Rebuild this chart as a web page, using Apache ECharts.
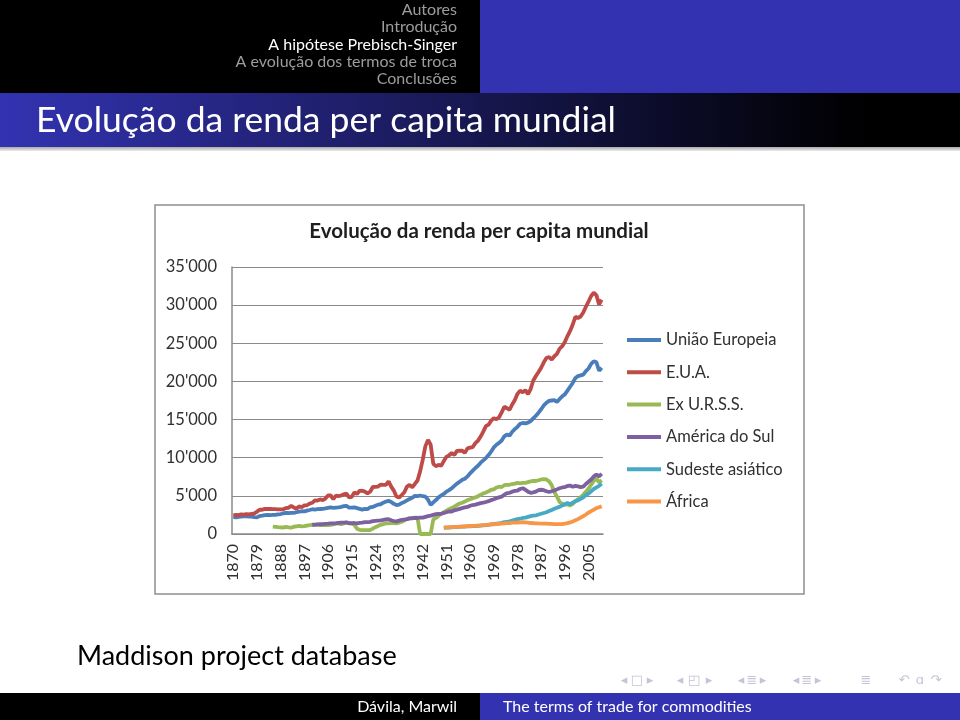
<!DOCTYPE html>
<html>
<head>
<meta charset="utf-8">
<script src="https://cdn.jsdelivr.net/npm/echarts@6/dist/echarts.min.js"></script>
<style>
html,body{margin:0;padding:0;background:#fff;}
#c{width:960px;height:720px;}
</style>
</head>
<body>
<div id="c"></div>
<script>
const years = [1870,1871,1872,1873,1874,1875,1876,1877,1878,1879,
1880,1881,1882,1883,1884,1885,1886,1887,1888,1889,
1890,1891,1892,1893,1894,1895,1896,1897,1898,1899,
1900,1901,1902,1903,1904,1905,1906,1907,1908,1909,
1910,1911,1912,1913,1914,1915,1916,1917,1918,1919,
1920,1921,1922,1923,1924,1925,1926,1927,1928,1929,
1930,1931,1932,1933,1934,1935,1936,1937,1938,1939,
1940,1941,1942,1943,1944,1945,1946,1947,1948,1949,
1950,1951,1952,1953,1954,1955,1956,1957,1958,1959,
1960,1961,1962,1963,1964,1965,1966,1967,1968,1969,
1970,1971,1972,1973,1974,1975,1976,1977,1978,1979,
1980,1981,1982,1983,1984,1985,1986,1987,1988,1989,
1990,1991,1992,1993,1994,1995,1996,1997,1998,1999,
2000,2001,2002,2003,2004,2005,2006,2007,2008,2009,
2010];

const seriesNames = ['União Europeia','E.U.A.','Ex U.R.S.S.','América do Sul','Sudeste asiático','África'];

const uniaoEuropeia = [2200,2180,2250,2280,2300,2300,2280,2270,2200,2180,
2350,2400,2480,2500,2480,2500,2520,2580,2620,2700,
2760,2750,2780,2770,2850,2920,2980,2960,3060,3150,
3250,3200,3250,3280,3300,3350,3420,3480,3420,3450,
3480,3560,3650,3700,3450,3450,3500,3400,3300,3200,
3300,3250,3500,3550,3700,3850,3900,4100,4250,4350,
4200,3950,3800,3850,4050,4200,4400,4600,4750,5000,
4950,5050,4950,4900,4500,3800,4150,4450,4800,5050,
5250,5550,5750,6000,6300,6600,6850,7100,7250,7550,
7950,8300,8650,8950,9350,9650,9950,10350,10800,11350,
11700,11950,12250,12800,13050,12900,13400,13750,14050,14450,
14550,14500,14600,14800,15150,15500,15900,16350,16850,17200,
17450,17500,17550,17300,17700,18050,18300,18800,19300,19800,
20450,20700,20800,20900,21350,21700,22300,22650,22500,21400,
21800];

const eua = [2445,2503,2469,2581,2528,2599,2562,2632,2693,2930,
3184,3179,3295,3278,3287,3250,3262,3239,3219,3246,
3392,3441,3680,3475,3310,3622,3513,3747,3769,3988,
4091,4402,4388,4533,4437,4642,5048,5063,4574,5037,
4964,5047,5201,5301,4799,4864,5459,5248,5659,5680,
5552,5323,5540,6164,6174,6224,6469,6428,6434,6899,
6213,5691,4908,4777,5114,5467,6204,6430,6126,6561,
7010,8206,9741,11518,12333,11709,9197,8886,9065,8944,
9561,10116,10316,10613,10359,10897,10914,10920,10631,11230,
11328,11402,11905,12242,12773,13419,14134,14330,14863,15179,
15030,15304,15944,16689,16491,16284,16975,17567,18373,18789,
18577,18856,18325,19000,20123,20717,21236,21788,22499,23059,
23201,22849,23298,23616,24284,24615,25170,25950,26621,27463,
28467,28318,28514,29036,29789,30481,31200,31650,31300,30100,
30700];

const exURSS = [null,null,null,null,null,null,null,null,null,null,
null,null,null,null,null,960,930,900,880,850,
920,870,830,950,1000,1050,1000,1020,1100,1150,
1230,1200,1220,1180,1200,1150,1180,1200,1250,1350,
1350,1300,1400,1480,1400,1350,1200,700,550,520,
500,500,520,700,900,1050,1200,1300,1380,1400,
1450,1420,1400,1500,1600,1800,1950,2050,2100,2150,
2150,0,0,0,0,0,1900,2100,2400,2650,
2850,3050,3250,3400,3600,3800,4000,4100,4250,4450,
4550,4700,4800,4950,5150,5300,5450,5600,5800,5850,
6100,6200,6150,6400,6450,6450,6550,6600,6700,6650,
6700,6700,6800,6900,6950,6950,7050,7150,7200,7150,
6900,6400,5500,4900,4200,3950,3850,3900,3750,3950,
4300,4550,4800,5150,5550,5950,6450,6950,7300,6750,
7050];

const americaDoSul = [null,null,null,null,null,null,null,null,null,null,
null,null,null,null,null,null,null,null,null,null,
null,null,null,null,null,null,null,null,null,null,
1180,1220,1250,1280,1300,1330,1350,1380,1400,1420,
1450,1480,1500,1520,1430,1420,1440,1400,1450,1480,
1550,1550,1600,1680,1720,1750,1780,1850,1930,1950,
1800,1700,1650,1750,1850,1900,1950,2050,2050,2100,
2100,2150,2150,2250,2350,2400,2500,2600,2650,2650,
2750,2850,2950,2950,3100,3200,3300,3400,3500,3550,
3700,3800,3850,3950,4050,4100,4200,4300,4450,4550,
4700,4800,4900,5150,5350,5400,5550,5650,5700,5900,
6000,5800,5550,5400,5450,5550,5750,5800,5750,5600,
5500,5600,5700,5850,6000,6100,6150,6300,6350,6200,
6300,6250,6150,6200,6550,6850,7150,7550,7800,7550,
7900];

const sudesteAsiatico = [null,null,null,null,null,null,null,null,null,null,
null,null,null,null,null,null,null,null,null,null,
null,null,null,null,null,null,null,null,null,null,
null,null,null,null,null,null,null,null,null,null,
null,null,null,null,null,null,null,null,null,null,
null,null,null,null,null,null,null,null,null,null,
null,null,null,null,null,null,null,null,null,null,
null,null,null,null,null,null,null,null,null,null,
800,830,850,870,900,920,940,960,970,990,
1000,1020,1040,1070,1100,1130,1150,1200,1250,1300,
1350,1400,1450,1550,1600,1650,1750,1850,1950,2000,
2100,2150,2250,2350,2400,2450,2550,2650,2750,2850,
3000,3150,3300,3450,3550,3750,3900,4050,3900,4100,
4300,4400,4600,4800,5100,5300,5600,5900,6100,6300,
6600];

const africa = [null,null,null,null,null,null,null,null,null,null,
null,null,null,null,null,null,null,null,null,null,
null,null,null,null,null,null,null,null,null,null,
null,null,null,null,null,null,null,null,null,null,
null,null,null,null,null,null,null,null,null,null,
null,null,null,null,null,null,null,null,null,null,
null,null,null,null,null,null,null,null,null,null,
null,null,null,null,null,null,null,null,null,null,
850,870,880,900,920,940,960,980,990,1020,
1050,1060,1080,1110,1140,1170,1190,1220,1250,1280,
1310,1330,1350,1380,1420,1430,1480,1500,1500,1530,
1560,1520,1480,1440,1420,1400,1380,1370,1360,1350,
1340,1320,1300,1300,1300,1310,1350,1420,1520,1650,
1800,1950,2150,2350,2550,2800,3000,3200,3400,3500,
3650];

const seriesData = [uniaoEuropeia, eua, exURSS, americaDoSul, sudesteAsiatico, africa];
const seriesColors = ['#4A7EBB','#BE4B48','#98B954','#7D60A0','#46AAC5','#F79646'];

const navItems = ['Autores','Introdução','A hipótese Prebisch-Singer','A evolução dos termos de troca','Conclusões'];
const slideTitle = 'Evolução da renda per capita mundial';
const chartTitle = 'Evolução da renda per capita mundial';
const sourceText = 'Maddison project database';
const footerLeft = 'Dávila, Marwil';
const footerRight = 'The terms of trade for commodities';

const BLUE = '#3333B2';
const SANS = 'Lato, "Open Sans", sans-serif';

const graphics = [];
// header
graphics.push({type:'rect', z:-20, shape:{x:0,y:0,width:480,height:93}, style:{fill:'#000'}});
graphics.push({type:'rect', z:-20, shape:{x:480,y:0,width:480,height:93}, style:{fill:BLUE}});
const navY = [10,27,45,62,79];
navItems.forEach((t,i)=>{
  graphics.push({type:'text', z:10, style:{text:t, x:457, y:navY[i], fill: i===2 ? '#ffffff' : '#9c9c9c',
    font:'16px '+SANS, textAlign:'right', textVerticalAlign:'middle'}});
});
// frame title bar
graphics.push({type:'rect', z:-20, shape:{x:0,y:93,width:960,height:54},
  style:{fill:new echarts.graphic.LinearGradient(0,0,1,0,[{offset:0,color:BLUE},{offset:0.9,color:'#000'},{offset:1,color:'#000'}])}});
graphics.push({type:'rect', z:-20, shape:{x:0,y:147,width:960,height:4},
  style:{fill:new echarts.graphic.LinearGradient(0,0,0,1,[{offset:0,color:'#a8a8a8'},{offset:1,color:'#ececec'}])}});
graphics.push({type:'text', z:10, style:{text:slideTitle, x:36, y:121, fill:'#ffffff',
  font:'35.5px '+SANS, textAlign:'left', textVerticalAlign:'middle'}});
// chart picture box
graphics.push({type:'rect', z:-10, shape:{x:155,y:205,width:649,height:389}, style:{fill:'#ffffff', stroke:'#8e8e8e', lineWidth:1.5}});
graphics.push({type:'text', z:10, style:{text:chartTitle, x:479, y:231, fill:'#1e1e1e',
  font:'bold 20.5px '+SANS, textAlign:'center', textVerticalAlign:'middle'}});
// source text
graphics.push({type:'text', z:10, style:{text:sourceText, x:77, y:656, fill:'#000',
  font:'27px '+SANS, textAlign:'left', textVerticalAlign:'middle'}});
// navigation symbols
const navSyms = [['◂',624],['□',637],['▸',650],['◂',680],['◰',694],['▸',709],['◂',741],['≣',752],['▸',763],['◂',796],['≣',807],['▸',818],['≣',866],['↶',904],['ɑ',920],['↷',936]];
navSyms.forEach(s=>{
  graphics.push({type:'text', z:10, style:{text:s[0], x:s[1], y:681, fill:'#c4c4d6',
    font:'13px "DejaVu Sans", sans-serif', textAlign:'center', textVerticalAlign:'middle'}});
});
// footer
graphics.push({type:'rect', z:-20, shape:{x:0,y:693,width:480,height:27}, style:{fill:'#000'}});
graphics.push({type:'rect', z:-20, shape:{x:480,y:693,width:480,height:27}, style:{fill:BLUE}});
graphics.push({type:'text', z:10, style:{text:footerLeft, x:457, y:707, fill:'#ffffff',
  font:'16px '+SANS, textAlign:'right', textVerticalAlign:'middle'}});
graphics.push({type:'text', z:10, style:{text:footerRight, x:503, y:707, fill:'#ffffff',
  font:'16px '+SANS, textAlign:'left', textVerticalAlign:'middle'}});

const chart = echarts.init(document.getElementById('c'), null, {renderer:'canvas'});
chart.setOption({
  animation:false,
  backgroundColor:'#ffffff',
  graphic: graphics,
  grid:{left:232, top:267, width:371, height:267, containLabel:false},
  legend:{
    orient:'vertical', left:622, top:325.5, padding:5, icon:'rect', itemWidth:34, itemHeight:4, itemGap:13.3,
    textStyle:{fontFamily:SANS, fontSize:16.5, color:'#303030', lineHeight:19},
    data: seriesNames
  },
  xAxis:{
    type:'category', data: years, boundaryGap:true,
    axisLine:{show:true, lineStyle:{color:'#8a8a8a', width:1.5}},
    axisTick:{show:false},
    axisLabel:{interval:8, rotate:90, margin:10, fontFamily:SANS, fontSize:16, color:'#303030'}
  },
  yAxis:{
    type:'value', min:0, max:35000, interval:5000,
    axisLine:{show:true, lineStyle:{color:'#8a8a8a', width:1.5}},
    axisTick:{show:false},
    splitLine:{show:true, lineStyle:{color:'#8a8a8a', width:1.2}},
    axisLabel:{margin:15, fontFamily:SANS, fontSize:16.5, color:'#303030',
      formatter: v => v === 0 ? '0' : (v/1000) + "'000"}
  },
  series: seriesNames.map((n,i)=>({
    name:n, type:'line', data: seriesData[i], showSymbol:false, symbol:'none',
    connectNulls:false, smooth:false,
    lineStyle:{width:3.8, color:seriesColors[i]}, itemStyle:{color:seriesColors[i]}
  }))
});
</script>
</body>
</html>
